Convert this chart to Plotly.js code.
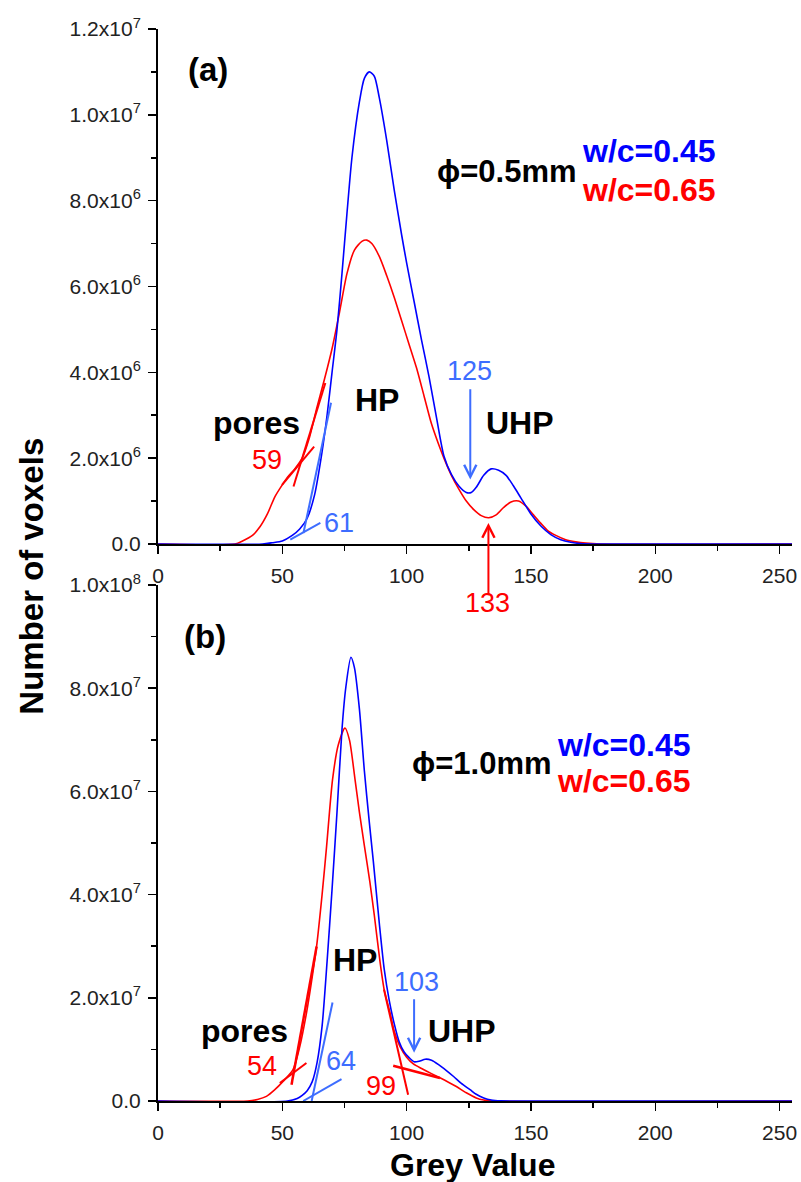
<!DOCTYPE html>
<html>
<head>
<meta charset="utf-8">
<script src="https://cdn.plot.ly/plotly-3.0.1.min.js"></script>
<style>html,body{margin:0;padding:0;background:#fff;}#chart{width:801px;height:1182px;}</style>
</head>
<body>
<div id="chart"></div>
<script>
// ---------- tick labels ----------
const xTickVals = [0, 50, 100, 150, 200, 250];
const xTickText = ["0", "50", "100", "150", "200", "250"];
const yTickValsA = [0, 2e6, 4e6, 6e6, 8e6, 1e7, 1.2e7];
const yTickTextA = ["0.0", "2.0x10<sup>6</sup>", "4.0x10<sup>6</sup>", "6.0x10<sup>6</sup>", "8.0x10<sup>6</sup>", "1.0x10<sup>7</sup>", "1.2x10<sup>7</sup>"];
const yTickValsB = [0, 2e7, 4e7, 6e7, 8e7, 1e8];
const yTickTextB = ["0.0", "2.0x10<sup>7</sup>", "4.0x10<sup>7</sup>", "6.0x10<sup>7</sup>", "8.0x10<sup>7</sup>", "1.0x10<sup>8</sup>"];

// ---------- panel (a): phi = 0.5 mm ----------
const greyA045 = [0, 42, 46, 50, 54, 57, 60, 63, 66, 68, 70, 72, 74, 76, 78, 81, 83, 85, 87, 89, 92, 95, 98, 100, 103, 106, 109, 112, 115, 118, 121, 124, 126, 128, 131, 134, 137, 140, 143, 146, 150, 154, 158, 162, 166, 170, 175, 255];
const voxA045 = [0, 0, 0.03e6, 0.07e6, 0.2e6, 0.35e6, 0.6e6, 1.15e6, 2.15e6, 3.0e6, 4.0e6, 5.0e6, 6.3e6, 7.7e6, 9.0e6, 10.3e6, 10.85e6, 11.0e6, 10.9e6, 10.4e6, 9.4e6, 8.25e6, 7.2e6, 6.55e6, 5.65e6, 4.75e6, 3.9e6, 2.95e6, 2.05e6, 1.62e6, 1.35e6, 1.2e6, 1.2e6, 1.32e6, 1.6e6, 1.75e6, 1.72e6, 1.6e6, 1.35e6, 1.07e6, 0.7e6, 0.42e6, 0.22e6, 0.1e6, 0.04e6, 0.01e6, 0, 0];
const greyA065 = [0, 31, 34, 38, 41, 44, 47, 50, 52, 55, 58, 61, 64, 67, 70, 73, 76, 79, 82, 84, 86, 89, 92, 95, 98, 101, 104, 107, 110, 113, 115, 118, 121, 124, 127, 130, 133, 136, 139, 142, 145, 148, 151, 154, 157, 160, 164, 168, 172, 178, 255];
const voxA065 = [0, 0, 0.07e6, 0.2e6, 0.4e6, 0.7e6, 1.1e6, 1.38e6, 1.55e6, 1.75e6, 2.0e6, 2.5e6, 3.2e6, 3.85e6, 4.55e6, 5.4e6, 6.3e6, 6.85e6, 7.05e6, 7.08e6, 7.0e6, 6.7e6, 6.25e6, 5.75e6, 5.2e6, 4.65e6, 4.1e6, 3.45e6, 2.8e6, 2.3e6, 2.0e6, 1.6e6, 1.28e6, 1.0e6, 0.8e6, 0.66e6, 0.61e6, 0.68e6, 0.85e6, 0.98e6, 1.0e6, 0.88e6, 0.68e6, 0.48e6, 0.3e6, 0.2e6, 0.1e6, 0.05e6, 0.02e6, 0, 0];

// tangent lines (a)
const tanA_red1_x = [49.9, 62.8], tanA_red1_y = [1.38e6, 2.27e6];
const tanA_red2_x = [54.5, 67.3], tanA_red2_y = [1.34e6, 3.75e6];
const tanA_blue1_x = [58.5, 69.6], tanA_blue1_y = [0.256e6, 3.29e6];
const tanA_blue2_x = [53.2, 65.3], tanA_blue2_y = [0.1e6, 0.49e6];

// ---------- panel (b): phi = 1.0 mm ----------
const greyB045 = [0, 52, 56, 58, 60, 62, 64, 66, 68, 70, 72, 74, 75.5, 77.6, 79, 81, 83, 85, 86.6, 89, 91, 93, 95, 97, 99, 101, 103, 105, 107.5, 110, 113, 116, 119, 122, 125.5, 128, 131, 134, 138, 144, 255];
const voxB045 = [0, 0, 0.5e6, 1.1e6, 2.0e6, 3.7e6, 7.5e6, 14.5e6, 27e6, 41e6, 56e6, 72e6, 80e6, 86e6, 84e6, 76e6, 64e6, 54e6, 46.5e6, 34.5e6, 25.5e6, 19.5e6, 15e6, 11.5e6, 9.5e6, 8.4e6, 7.6e6, 7.7e6, 8.1e6, 7.9e6, 7.0e6, 5.9e6, 4.7e6, 3.4e6, 2.2e6, 1.3e6, 0.6e6, 0.2e6, 0.03e6, 0, 0];
const greyB065 = [0, 36, 40, 43.6, 47, 50.3, 54.3, 57, 59.7, 61.7, 63.8, 66, 67.8, 70.2, 72.5, 75.2, 77, 79.2, 81, 83, 85.2, 87, 89.3, 91, 93.3, 95, 97.3, 100, 102.7, 106, 110, 113.4, 117, 120, 124, 128, 131, 135, 255];
const voxB065 = [0, 0, 0.3e6, 0.9e6, 2.2e6, 3.8e6, 6.07e6, 10.5e6, 17e6, 23e6, 30e6, 40e6, 49.3e6, 62.3e6, 69e6, 72.3e6, 70e6, 62.5e6, 56e6, 49.5e6, 42.5e6, 36e6, 27e6, 21.5e6, 17.1e6, 13.5e6, 10.6e6, 8.5e6, 7.2e6, 6.3e6, 5.3e6, 4.5e6, 3.6e6, 2.8e6, 1.6e6, 0.6e6, 0.2e6, 0, 0];

// tangent lines (b)
const tanB_red1_x = [53.7, 63.8], tanB_red1_y = [3.16e6, 29.96e6];
const tanB_red2_x = [49.0, 59.7], tanB_red2_y = [3.49e6, 7.36e6];
const tanB_blue1_x = [61.8, 70.2], tanB_blue1_y = [0, 19.1e6];
const tanB_blue2_x = [58.4, 73.8], tanB_blue2_y = [0, 4.26e6];
const tanB_red3_x = [90.9, 100.6], tanB_red3_y = [21.6e6, 1.22e6];
const tanB_red4_x = [94.6, 113.4], tanB_red4_y = [6.84e6, 4.46e6];

// ---------- styles ----------
const BLUE = "#0000ff", RED = "#ff0000", LBLUE = "#3d6dff";
const FONT = "Arial, 'Liberation Sans', Helvetica, sans-serif";

function curve(x, y, color, xa, ya) {
  return {x: x, y: y, xaxis: xa, yaxis: ya, type: "scatter", mode: "lines",
    line: {color: color, width: 1.6, shape: "spline", smoothing: 0.7}, hoverinfo: "skip", showlegend: false};
}
function tline(x, y, color, xa, ya, w) {
  return {x: x, y: y, xaxis: xa, yaxis: ya, type: "scatter", mode: "lines",
    line: {color: color, width: w || 2}, hoverinfo: "skip", showlegend: false};
}

const traces = [
  curve(greyA065, voxA065, RED, "x", "y"),
  curve(greyA045, voxA045, BLUE, "x", "y"),
  tline(tanA_red1_x, tanA_red1_y, RED, "x", "y"),
  tline(tanA_red2_x, tanA_red2_y, RED, "x", "y"),
  tline(tanA_blue1_x, tanA_blue1_y, LBLUE, "x", "y"),
  tline(tanA_blue2_x, tanA_blue2_y, LBLUE, "x", "y"),
  curve(greyB065, voxB065, RED, "x2", "y2"),
  curve(greyB045, voxB045, BLUE, "x2", "y2"),
  tline(tanB_red1_x, tanB_red1_y, RED, "x2", "y2", 2.5),
  tline(tanB_red2_x, tanB_red2_y, RED, "x2", "y2"),
  tline(tanB_blue1_x, tanB_blue1_y, LBLUE, "x2", "y2"),
  tline(tanB_blue2_x, tanB_blue2_y, LBLUE, "x2", "y2"),
  tline(tanB_red3_x, tanB_red3_y, RED, "x2", "y2"),
  tline(tanB_red4_x, tanB_red4_y, RED, "x2", "y2", 2.5)
];

function xAxis(anchor) {
  return {domain: [0, 1], anchor: anchor, range: [0, 255], tickmode: "array",
    tickvals: xTickVals, ticktext: xTickText, ticks: "outside", ticklen: 8, tickwidth: 1.5,
    tickcolor: "#000", showline: true, linecolor: "#000", linewidth: 2, showgrid: false,
    zeroline: false, layer: "below traces", ticklabelstandoff: 4,
    tickfont: {family: FONT, size: 21, color: "#222"},
    minor: {dtick: 25, tick0: 0, ticks: "outside", ticklen: 5, tickwidth: 1.5, tickcolor: "#000", showgrid: false}};
}
function yAxis(anchor, domain, range, vals, text, minorStep) {
  return {domain: domain, anchor: anchor, range: range, tickmode: "array",
    tickvals: vals, ticktext: text, ticks: "outside", ticklen: 8, tickwidth: 1.5,
    tickcolor: "#000", showline: true, linecolor: "#000", linewidth: 2, showgrid: false,
    zeroline: false, layer: "below traces", ticklabelstandoff: 3,
    tickfont: {family: FONT, size: 21, color: "#222"},
    minor: {dtick: minorStep, tick0: 0, ticks: "outside", ticklen: 5, tickwidth: 1.5, tickcolor: "#000", showgrid: false}};
}

function txt(x, y, text, xr, yr, size, color, bold, extra) {
  const a = {x: x, y: y, xref: xr, yref: yr, text: bold ? "<b>" + text + "</b>" : text,
    showarrow: false, font: {family: FONT, size: size, color: color}, xanchor: "center", yanchor: "middle"};
  return Object.assign(a, extra || {});
}
function arrow(x, y, ax, ay, xr, yr, color) {
  return {x: x, y: y, ax: ax, ay: ay, xref: xr, yref: yr, axref: xr, ayref: yr, text: "",
    showarrow: true, arrowhead: 5, arrowsize: 1.2, arrowwidth: 2, arrowcolor: color, standoff: 0, startstandoff: 0};
}

const annotations = [
  // panel (a)
  txt(20, 11.05e6, "(a)", "x", "y", 33, "#000", true),
  txt(169.2, 8.67e6, "ϕ=0.5mm", "x", "y", 31, "#000", true, {xanchor: "right"}),
  txt(169.6, 9.15e6, "w/c=0.45", "x", "y", 32, BLUE, true, {xanchor: "left"}),
  txt(169.6, 8.26e6, "w/c=0.65", "x", "y", 32, RED, true, {xanchor: "left"}),
  txt(39.8, 2.83e6, "pores", "x", "y", 32, "#000", true),
  txt(88.1, 3.36e6, "HP", "x", "y", 32, "#000", true),
  txt(145.7, 2.83e6, "UHP", "x", "y", 32, "#000", true),
  txt(43.8, 1.96e6, "59", "x", "y", 27, RED, false),
  txt(72.9, 0.5e6, "61", "x", "y", 27, LBLUE, false),
  txt(125.2, 4.02e6, "125", "x", "y", 27, LBLUE, false),
  txt(132.6, 0.4646, "133", "x", "paper", 27, RED, false),
  arrow(125.6, 1.5e6, 125.6, 3.64e6, "x", "y", LBLUE),
  arrow(132.9, 0.49e6, 132.9, -1.23e6, "x", "y", RED),
  // panel (b)
  txt(18.8, 90.0e6, "(b)", "x2", "y2", 33, "#000", true),
  txt(159.4, 65.5e6, "ϕ=1.0mm", "x2", "y2", 31, "#000", true, {xanchor: "right"}),
  txt(159.8, 69.05e6, "w/c=0.45", "x2", "y2", 32, BLUE, true, {xanchor: "left"}),
  txt(159.8, 62.07e6, "w/c=0.65", "x2", "y2", 32, RED, true, {xanchor: "left"}),
  txt(34.9, 13.5e6, "pores", "x2", "y2", 32, "#000", true),
  txt(79.2, 27.4e6, "HP", "x2", "y2", 32, "#000", true),
  txt(122.1, 13.5e6, "UHP", "x2", "y2", 32, "#000", true),
  txt(41.9, 6.7e6, "54", "x2", "y2", 27, RED, false),
  txt(73.5, 7.67e6, "64", "x2", "y2", 27, LBLUE, false),
  txt(89.6, 2.83e6, "99", "x2", "y2", 27, RED, false),
  txt(104.0, 23.0e6, "103", "x2", "y2", 27, LBLUE, false),
  arrow(103, 9.36e6, 103, 20.0e6, "x2", "y2", LBLUE),
  // axis titles
  txt(-0.2, 0.4893, "Number of voxels", "paper", "paper", 33, "#000", true, {textangle: -90}),
  txt(0.4953, -0.0597, "Grey Value", "paper", "paper", 32, "#000", true)
];

const layout = {
  width: 801, height: 1182,
  margin: {l: 158, r: 9, t: 29, b: 81, pad: 0},
  paper_bgcolor: "#fff", plot_bgcolor: "#fff",
  showlegend: false,
  xaxis: xAxis("y"),
  yaxis: yAxis("x", [0.5196, 1], [0, 1.2e7], yTickValsA, yTickTextA, 1e6),
  xaxis2: xAxis("y2"),
  yaxis2: yAxis("x2", [0, 0.4813], [0, 1e8], yTickValsB, yTickTextB, 1e7),
  annotations: annotations
};

Plotly.newPlot("chart", traces, layout, {staticPlot: true, displayModeBar: false});
</script>
</body>
</html>
